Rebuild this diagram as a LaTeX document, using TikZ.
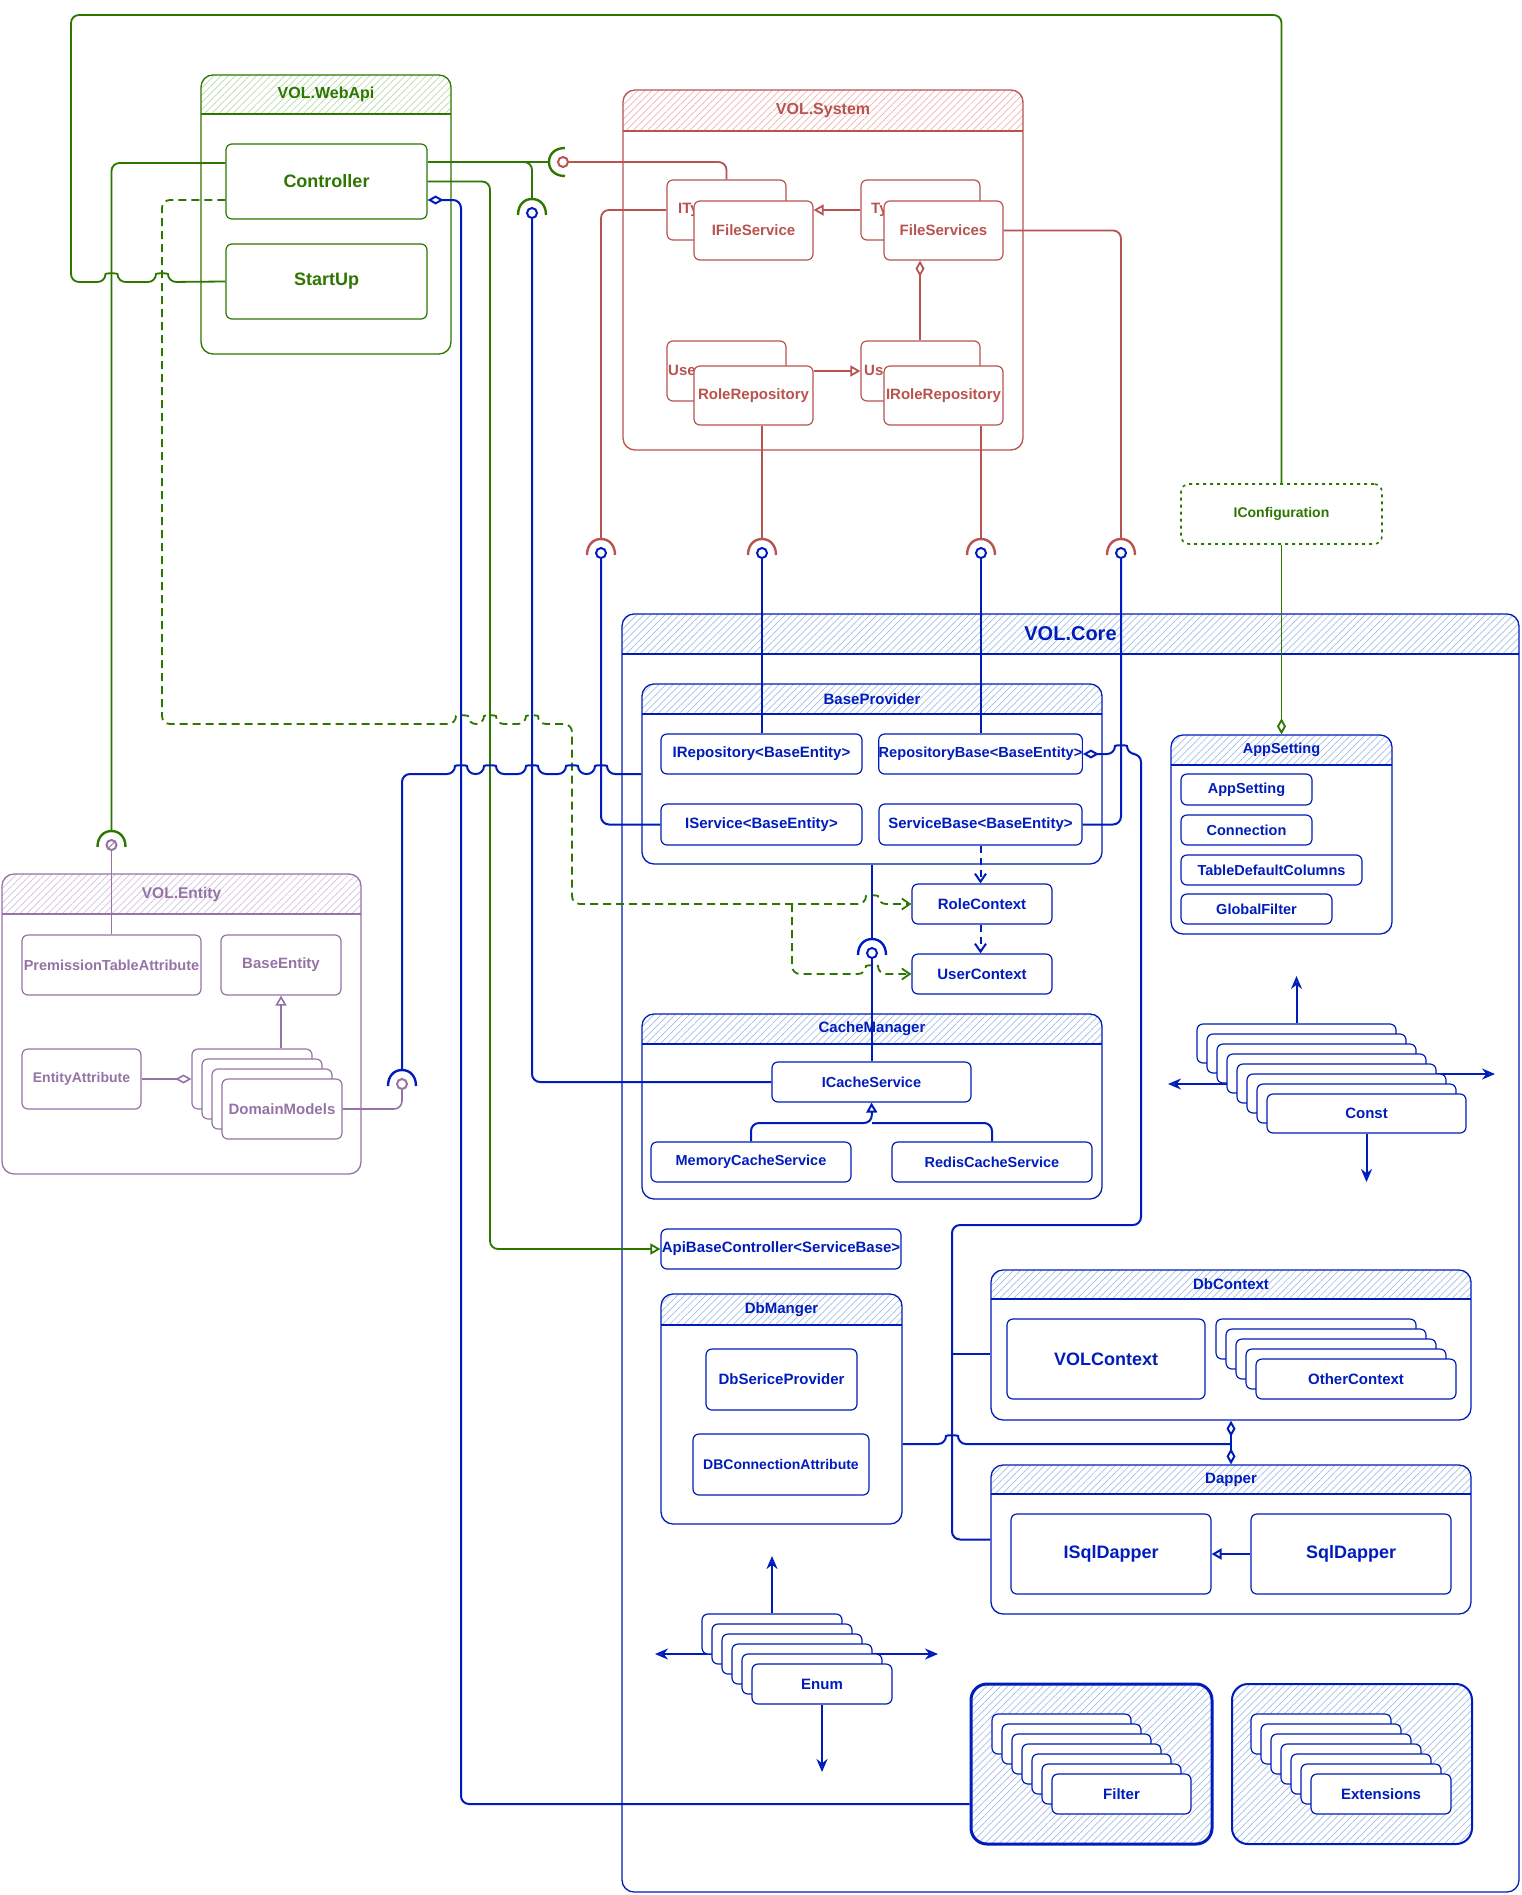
\documentclass[tikz,border=0pt]{standalone}
\usepackage{fontspec}
\setmainfont{Liberation Sans}
\usetikzlibrary{arrows.meta,patterns.meta,calc}
\definecolor{gs}{HTML}{2D7600}
\definecolor{gh}{HTML}{B9DBA8}
\definecolor{rs}{HTML}{B85450}
\definecolor{rh}{HTML}{F3B3B1}
\definecolor{bs}{HTML}{001DBC}
\definecolor{bh}{HTML}{A6BFEA}
\definecolor{ps}{HTML}{9673A6}
\definecolor{ph}{HTML}{D2C3DC}
\newcommand\txs[1]{\fontsize{#1}{#1}\selectfont}
% container: name, x1,y1,x2,y2, header bottom, colour prefix, title
\newcommand\cont[8]{%
  \fill[white, rounded corners=12pt] (#2,#3) rectangle (#4,#5);
  \begin{scope}
    \clip[rounded corners=12pt] (#2,#3) rectangle (#4,#5);
    \fill[pattern={Lines[angle=45,distance=5pt,line width=0.7pt]}, pattern color=#7h] (#2,#3) rectangle (#4,#6);
  \end{scope}
  \node[draw=#7s, line width=1.3pt, rounded corners=12pt, inner sep=0pt, minimum width={#4-#2}, minimum height={#5-#3}] (#1) at ({(#2+#4)/2},{(#3+#5)/2}) {};
  \draw[#7s, line width=1.1pt] (#2,#6) -- (#4,#6);
  \node[font=\bfseries\txs{15}, text=#7s] (#1-title) at ({(#2+#4)/2},{(#3+#6)/2}) {#8};
}
% box: name, x1,y1,x2,y2, colour prefix, text
\newcommand\bx[7]{%
  \node[draw=#6s, fill=white, line width=1.2pt, rounded corners=6pt, inner sep=0pt, minimum width={#4-#2}, minimum height={#5-#3}, font=\bfseries\txs{15}, text=#6s] (#1) at ({(#2+#4)/2},{(#3+#5)/2}) {#7};}
% stack: name, x0,y0, count, w, h, colour prefix, text
\newcommand\stk[8]{%
  \pgfmathtruncatemacro\stkm{#4-2}%
  \foreach \i in {0,...,\stkm}{%
    \node[draw=#7s, fill=white, line width=1.2pt, rounded corners=6pt, inner sep=0pt, minimum width=#5, minimum height=#6] (#1-\i) at ({#2+10*\i+#5/2},{#3+10*\i+#6/2}) {};
  }%
  \pgfmathsetmacro\stkx{#2+10*(#4-1)}%
  \pgfmathsetmacro\stky{#3+10*(#4-1)}%
  \bx{#1}{\stkx}{\stky}{\stkx+#5}{\stky+#6}{#7}{#8}%
}
\newcommand\hopl[2]{-- ({#1+6},#2) .. controls ({#1+6},{#2-9}) and ({#1-6},{#2-9}) .. ({#1-6},#2)}
\newcommand\hopr[2]{-- ({#1-6},#2) .. controls ({#1-6},{#2-9}) and ({#1+6},{#2-9}) .. ({#1+6},#2)}
\newcommand\sockD[3]{\draw[#3, line width=2.4pt] ({#1-14},{#2+2}) .. controls ({#1-14},{#2-8}) and ({#1-8},{#2-14}) .. (#1,{#2-14}) .. controls ({#1+8},{#2-14}) and ({#1+14},{#2-8}) .. ({#1+14},{#2+2});}
\newcommand\sockL[3]{\draw[#3, line width=2.4pt] ({#1+2},{#2-14}) .. controls ({#1-8},{#2-14}) and ({#1-14},{#2-8}) .. ({#1-14},#2) .. controls ({#1-14},{#2+8}) and ({#1-8},{#2+14}) .. ({#1+2},{#2+14});}
\tikzset{
  gconn/.style={draw=gs, line width=1.8pt, rounded corners=8pt},
  gdash/.style={draw=gs, line width=1.8pt, dash pattern=on 8pt off 5pt, rounded corners=8pt},
  bconn/.style={draw=bs, line width=2pt, rounded corners=8pt},
  bdash/.style={draw=bs, line width=2pt, dash pattern=on 7pt off 5pt},
  rconn/.style={draw=rs, line width=1.8pt, rounded corners=8pt},
  pconn/.style={draw=ps, line width=1.6pt, rounded corners=8pt},
  ball/.style={circle, draw=#1, fill=white, line width=2pt, minimum size=10pt, inner sep=0pt},
  aTri/.tip={Triangle[open, length=10pt, width=11pt]},
  aDia/.tip={Diamond[open, length=16pt, width=9pt]},
  aBarb/.tip={Straight Barb[length=8pt, width=11pt]},
  aStl/.tip={Stealth[open, length=13pt, width=11pt]},
  ttext/.style={anchor=west, inner sep=0pt, font=\bfseries\txs{15}},
}
\begin{document}
\begin{tikzpicture}[x=1pt, y=-1pt]
\fill[white] (0,0) rectangle (1522,1895);
\useasboundingbox (0,0) rectangle (1522,1895);

% ---------- top level containers ----------
\cont{webapi}{201}{75}{451}{354}{114}{g}{\txs{16}VOL.WebApi}
\cont{system}{623}{90}{1023}{450}{131}{r}{\txs{16}VOL.System}
\cont{core}{622}{614}{1519}{1892}{654}{b}{\txs{20}VOL.Core}
\cont{entity}{2}{874}{361}{1174}{914}{p}{\txs{15.5}VOL.Entity}
\node[draw=gs, line width=1.6pt, dash pattern=on 3pt off 4pt, rounded corners=8pt, minimum width=201, minimum height=60, inner sep=0pt, font=\bfseries\txs{14}, text=gs] (iconf) at (1281.5,514) {IConfiguration};

% ---------- inner containers ----------
\cont{bp}{642}{684}{1102}{864}{714}{b}{BaseProvider}
\cont{cm}{642}{1014}{1102}{1199}{1044}{b}{CacheManager}
\cont{appc}{1171}{735}{1392}{934}{765}{b}{\txs{14.5}AppSetting}
\cont{dbm}{661}{1294}{902}{1524}{1325}{b}{DbManger}
\cont{dbctx}{991}{1270}{1471}{1420}{1299}{b}{DbContext}
\cont{dapper}{991}{1465}{1471}{1614}{1494}{b}{Dapper}
\begin{scope}
  \clip[rounded corners=16pt] (971,1684) rectangle (1212,1844);
  \fill[pattern={Lines[angle=45,distance=5pt,line width=0.7pt]}, pattern color=bh] (971,1684) rectangle (1212,1844);
\end{scope}
\node[draw=bs, line width=3pt, rounded corners=16pt, minimum width=241, minimum height=160, inner sep=0pt] (filterc) at (1091.5,1764) {};
\begin{scope}
  \clip[rounded corners=16pt] (1232,1684) rectangle (1472,1844);
  \fill[pattern={Lines[angle=45,distance=5pt,line width=0.7pt]}, pattern color=bh] (1232,1684) rectangle (1472,1844);
\end{scope}
\node[draw=bs, line width=2pt, rounded corners=16pt, minimum width=240, minimum height=160, inner sep=0pt] (extc) at (1352,1764) {};

% ---------- WebApi ----------
\bx{ctrl}{226}{144}{427}{219}{g}{\txs{18}Controller}
\bx{startup}{226}{244}{427}{319}{g}{\txs{18}StartUp}

% ---------- System ----------
\bx{ity}{667}{180}{786}{240}{r}{}
\node[ttext, text=rs] (itytxt) at (678,210) {ITy};
\bx{ifile}{694}{201}{813}{260}{r}{IFileService}
\bx{ty}{861}{180}{980}{240}{r}{}
\node[ttext, text=rs] (tytxt) at (871,210) {Ty};
\bx{filesvc}{884}{201}{1003}{260}{r}{FileServices}
\bx{usr}{667}{341}{786}{401}{r}{}
\node[ttext, text=rs] (usrtxt) at (668,370) {Use};
\bx{rolerepo}{694}{366}{813}{425}{r}{RoleRepository}
\bx{us}{861}{341}{980}{401}{r}{}
\node[ttext, text=rs] (ustxt) at (864,370) {Us};
\bx{irolerepo}{884}{366}{1003}{425}{r}{IRoleRepository}

% ---------- Core ----------
\bx{irepo}{661}{734}{862}{774}{b}{IRepository<BaseEntity>}
\bx{repobase}{879}{734}{1082}{774}{b}{\txs{14.6}RepositoryBase<BaseEntity>}
\bx{iserv}{661}{804}{862}{845}{b}{IService<BaseEntity>}
\bx{servbase}{879}{804}{1082}{845}{b}{ServiceBase<BaseEntity>}
\bx{rolectx}{912}{884}{1052}{924}{b}{RoleContext}
\bx{userctx}{912}{954}{1052}{994}{b}{UserContext}
\bx{icache}{772}{1062}{971}{1102}{b}{\txs{14.5}ICacheService}
\bx{memcache}{651}{1142}{851}{1182}{b}{\txs{14.5}MemoryCacheService}
\bx{rediscache}{892}{1142}{1092}{1182}{b}{\txs{14.5}RedisCacheService}
\bx{appsetting}{1181}{774}{1312}{805}{b}{\txs{14.5}AppSetting}
\bx{connection}{1181}{815}{1312}{845}{b}{\txs{14.5}Connection}
\bx{tdc}{1181}{855}{1362}{885}{b}{\txs{14.5}TableDefaultColumns}
\bx{gfilter}{1181}{894}{1332}{924}{b}{\txs{14.5}GlobalFilter}
\bx{apibase}{661}{1229}{901}{1269}{b}{ApiBaseController<ServiceBase>}
\bx{dbsp}{706}{1349}{857}{1410}{b}{DbSericeProvider}
\bx{dbconn}{693}{1434}{869}{1495}{b}{\txs{14}DBConnectionAttribute}
\bx{volctx}{1007}{1319}{1205}{1399}{b}{\txs{18}VOLContext}
\stk{otherctx}{1216}{1319}{5}{200}{40}{b}{OtherContext}
\bx{isqldapper}{1011}{1514}{1211}{1594}{b}{\txs{18}ISqlDapper}
\bx{sqldapper}{1251}{1514}{1451}{1594}{b}{\txs{18}SqlDapper}

% stacks with arrows (horizontal arrows behind stacks)
\coordinate (enumL) at (655,1654);
\coordinate (enumR) at (938,1654);
\coordinate (enumU) at (772,1556);
\coordinate (enumD) at (822,1772);
\coordinate (enumC) at (810,1654);
\draw[bconn, -aStl] (enumC) -- (enumL);
\draw[bconn, -aStl] (enumC) -- (enumR);
\stk{enum}{702}{1614}{6}{140}{40}{b}{Enum}
\draw[bconn, -aStl] (enum-0.north) -- (enumU);
\draw[bconn, -aStl] (enum.south) -- (enumD);

\coordinate (constL) at (1168,1084);
\coordinate (constR) at (1495,1074);
\coordinate (constU) at (1296.5,976);
\coordinate (constD) at (1366.5,1182);
\draw[bconn, -aStl] (1300,1084) -- (constL);
\draw[bconn, -aStl] (1400,1074) -- (constR);
\stk{const}{1197}{1024}{8}{199}{39}{b}{Const}
\draw[bconn, -aStl] (const-0.north) -- (constU);
\draw[bconn, -aStl] (const.south) -- (constD);

\stk{filter}{992}{1714}{7}{139}{40}{b}{Filter}
\stk{ext}{1251}{1714}{7}{140}{40}{b}{Extensions}

% ---------- Entity ----------
\bx{premission}{22}{935}{201}{995}{p}{\txs{14.5}PremissionTableAttribute}
\bx{baseent}{221}{935}{341}{995}{p}{BaseEntity}
\bx{entattr}{22}{1049}{141}{1109}{p}{\txs{14}EntityAttribute}
\stk{domain}{192}{1049}{4}{120}{60}{p}{DomainModels}

% ---------- balls ----------
\node[ball=rs] (ballCtl) at (563,162) {};
\node[ball=bs] (ballC) at (532,213) {};
\node[ball=ps] (ballPT) at (111.5,845) {};
\draw[ps, line width=1pt] ([shift={(-3,3)}]ballPT.center) -- ([shift={(3,-3)}]ballPT.center);
\node[ball=ps] (ballDM) at (402,1084) {};
\node[ball=bs] (ballIS) at (601,553) {};
\node[ball=bs] (ballIR) at (762,553) {};
\node[ball=bs] (ballIRR) at (981,553) {};
\node[ball=bs] (ballFS) at (1121,553) {};
\node[ball=bs] (ballCM) at (872,953) {};

% ---------- green connectors ----------
\draw[gconn] (startup.west) \hopl{162}{282} \hopl{111.5}{282} -- (71,282) -- (71,15) -- (1281.5,15) -- (iconf.north);
\draw[gconn, -aDia] (iconf.south) -- (appc.north);
\draw[gconn] (ctrl.west |- 0,163) -- (111.5,163) -- (111.5,831);
\sockD{111.5}{845}{gs}
\coordinate (gbr) at (792,904);
\draw[gdash, -aBarb] (ctrl.west |- 0,200) -- (162,200) -- (162,724) \hopr{462}{724} \hopr{490}{724} \hopr{532}{724} -- (572,724) -- (572,904) \hopr{872}{904} -- (rolectx.west);
\draw[gdash, -aBarb] (gbr) -- (792,974) \hopr{872}{974} -- (userctx.west);
\draw[gconn] (ctrl.east |- 0,162) -- (549,162);
\sockL{563}{162}{gs}
\coordinate (gbr2) at (512,162);
\draw[gconn] (gbr2) -- (532,162) -- (532,199);
\sockD{532}{213}{gs}
\draw[gconn, -aTri] (ctrl.east) -- (490,181.5) -- (490,1249) -- (apibase.west);

% ---------- blue connectors ----------
\draw[bconn, aDia-] (ctrl.east |- 0,200) -- (461,200) -- (461,1804) -- (filterc.west |- 0,1804);
\draw[bconn] (ballC) -- (532,1082) -- (icache.west);
\draw[bconn] (bp.west) \hopl{601}{774} \hopl{572}{774} \hopl{532}{774} \hopl{490}{774} \hopl{461}{774} -- (402,774) -- (402,1070);
\sockD{402}{1084}{bs}
\draw[bconn] (ballIS) -- (601,824.5) -- (iserv.west);
\draw[bconn] (ballIR) -- (ballIR |- irepo.north);
\draw[bconn] (ballIRR) -- (ballIRR |- repobase.north);
\draw[bconn] (ballFS) -- (1121,824.5) -- (servbase.east);
\coordinate (dbj) at (1231,1444);
\coordinate (dbbr) at (952,1354);
\draw[bconn, aDia-] (repobase.east) \hopr{1121}{754} -- (1141,754) -- (1141,1225) -- (952,1225) -- (952,1539.5) -- (dapper.west);
\draw[bconn] (dbbr) -- (dbctx.west |- 0,1354);
\draw[bconn] (dbm.east |- 0,1444) \hopr{952}{1444} -- (dbj);
\draw[bconn, aDia-] (dbctx.south) -- (dbj);
\draw[bconn, -aDia] (dbj) -- (dapper.north);
\draw[bconn] (bp.south) -- (872,940);
\sockD{872}{953}{bs}
\draw[bconn] (ballCM) -- (ballCM |- icache.north);
\draw[bdash, -aBarb] (servbase.south) -- (servbase.south |- rolectx.north);
\draw[bdash, -aBarb] (servbase.south |- rolectx.south) -- (servbase.south |- userctx.north);
\draw[bconn, -aTri] (memcache.north) |- (872,1123) -- (icache.south);
\draw[bconn] (rediscache.north) |- (872,1123);
\draw[bconn, -aTri] (sqldapper.west) -- (isqldapper.east);

% ---------- red connectors ----------
\draw[rconn] (ity.west) -- (601,210) -- (601,538);
\sockD{601}{553}{rs}
\draw[rconn] (rolerepo.south -| 762,0) -- (762,538);
\sockD{762}{553}{rs}
\draw[rconn] (irolerepo.south -| 981,0) -- (981,538);
\sockD{981}{553}{rs}
\draw[rconn] (filesvc.east) -- (1121,230.5) -- (1121,538);
\sockD{1121}{553}{rs}
\draw[rconn, -aTri] (ty.west) -- (ifile.east |- ty.west);
\draw[rconn, -aTri] (rolerepo.east |- us.west) -- (us.west);
\draw[rconn, -aDia] (us.north -| 920,0) -- (filesvc.south -| 920,0);
\draw[rconn] (ity.north) -- (726.5,162) -- (ballCtl);

% ---------- purple connectors ----------
\draw[pconn] (premission.north) -- (ballPT);
\draw[pconn] (domain.east) -- (402,1109) -- (ballDM);
\draw[pconn, -aDia] (entattr.east) -- (domain-0.west);
\draw[pconn, -aTri] (domain-0.north -| baseent.south) -- (baseent.south);
\end{tikzpicture}
\end{document}
